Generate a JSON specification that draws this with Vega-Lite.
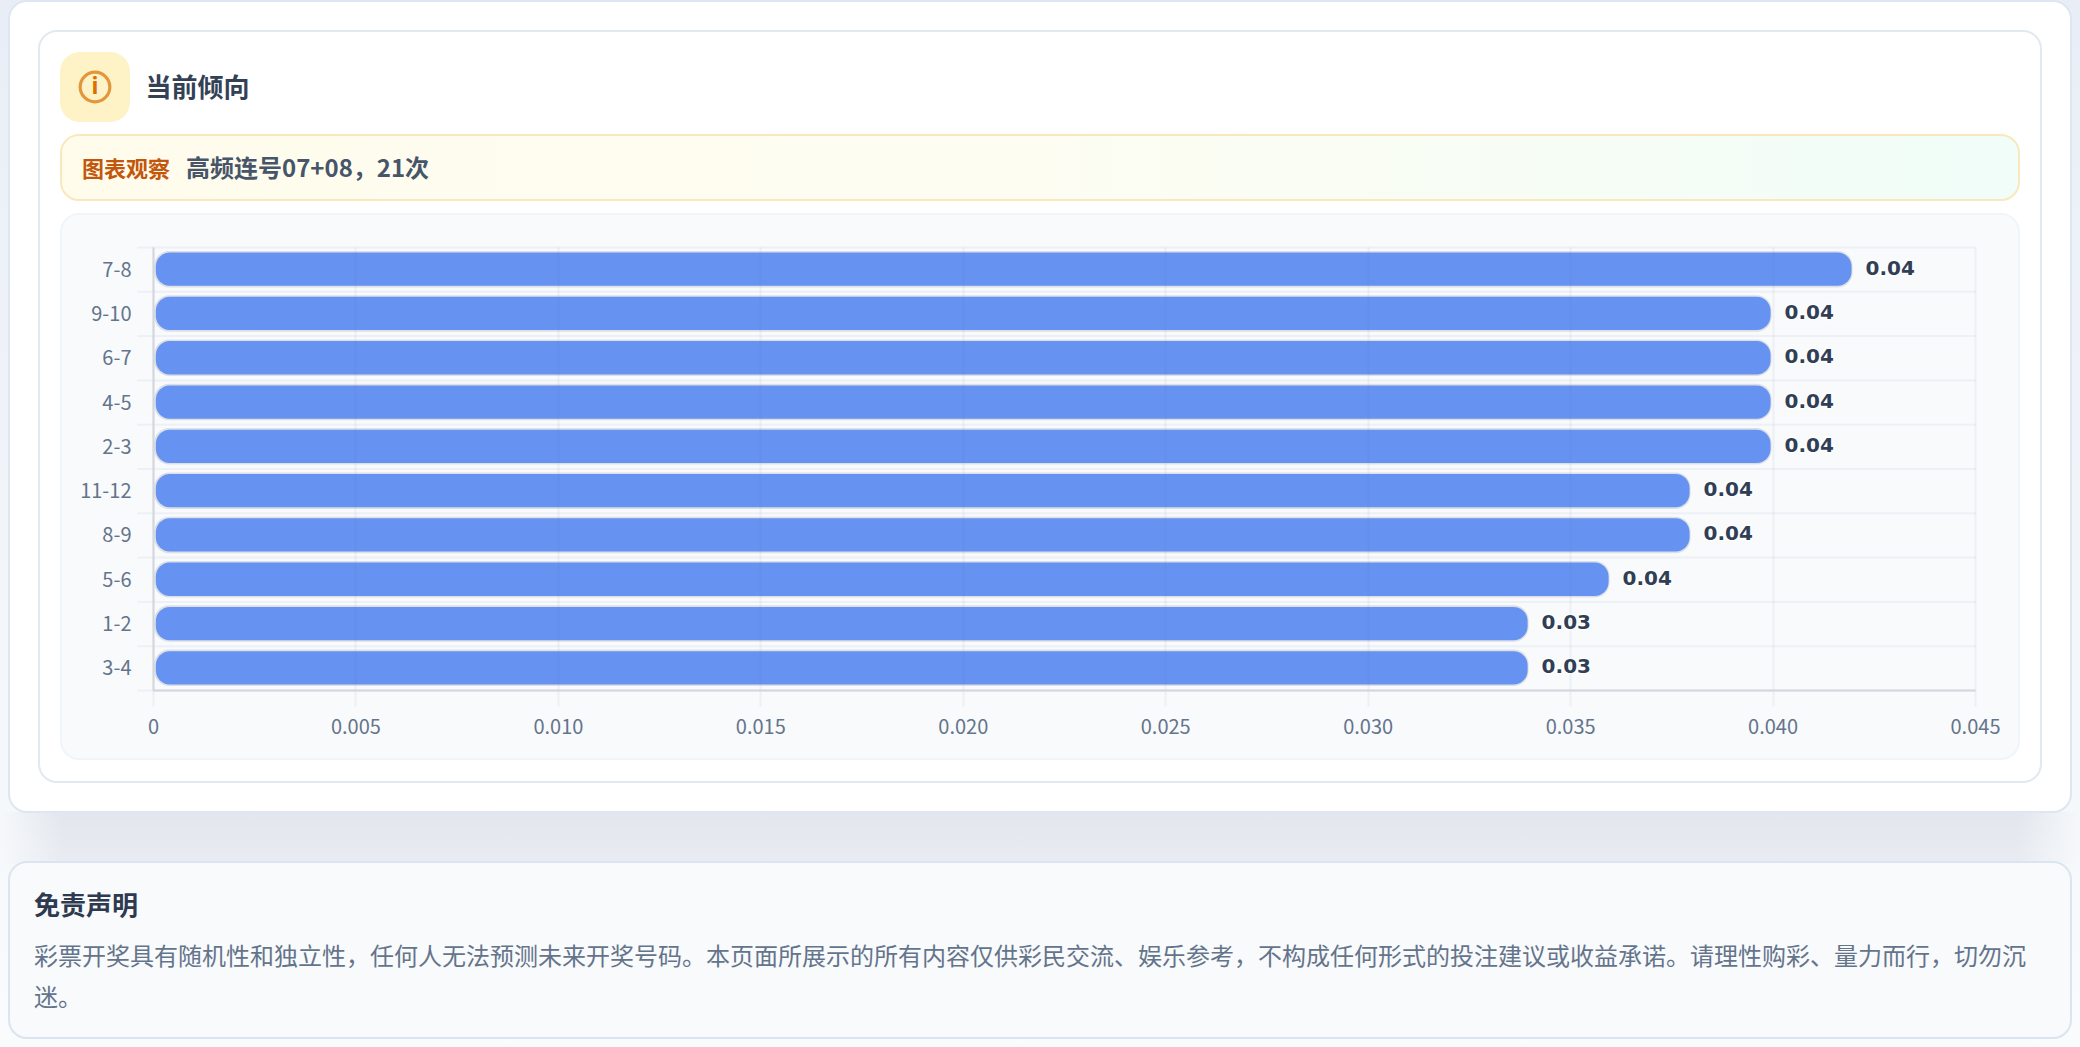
{
"$schema":"https://vega.github.io/schema/vega-lite/v6.json",
"padding":0,
"background":"#f1f4f9",
"bounds":"flush",
"spacing":0,
"config":{"font":"Noto Sans CJK SC","view":{"stroke":null}},
"vconcat":[
{"bounds":"flush","spacing":0,"vconcat":[
 {"width":2080,"height":1047,"view":{"fill":{"gradient":"linear","x1":0,"y1":0,"x2":0,"y2":1,"stops":[{"offset":0,"color":"#e9eef6"},{"offset":1,"color":"#f9fbfd"}]},"stroke":null},"data":{"values":[{"card":"page"}]},"mark":{"type":"point","opacity":0,"size":0,"strokeWidth":0},"encoding":{}}
]},
{"bounds":"flush","spacing":0,"vconcat":[
 {"width":1,"height":812,"view":{"stroke":null},"data":{"values":[{"spacer":1}]},"mark":{"type":"point","opacity":0,"size":0,"strokeWidth":0},"encoding":{}},
 {"width":2080,"height":52,"view":{"fill":{"gradient":"linear","x1":0,"y1":0,"x2":1,"y2":0,"stops":[{"offset":0,"color":"rgba(70,85,120,0)"},{"offset":0.03,"color":"rgba(70,85,120,0.11)"},{"offset":0.97,"color":"rgba(70,85,120,0.11)"},{"offset":1,"color":"rgba(70,85,120,0)"}]},"stroke":null},"data":{"values":[{"card":"shadow"}]},"mark":{"type":"point","opacity":0,"size":0,"strokeWidth":0},"encoding":{}}
]},
{"bounds":"flush","spacing":0,"vconcat":[
 {"width":1,"height":812,"view":{"stroke":null},"data":{"values":[{"spacer":1}]},"mark":{"type":"point","opacity":0,"size":0,"strokeWidth":0},"encoding":{}},
 {"width":2080,"height":52,"view":{"fill":{"gradient":"linear","x1":0,"y1":0,"x2":0,"y2":1,"stops":[{"offset":0,"color":"rgba(246,248,251,0)"},{"offset":1,"color":"rgba(246,248,251,0.3)"}]},"stroke":null},"data":{"values":[{"card":"shadow fade"}]},"mark":{"type":"point","opacity":0,"size":0,"strokeWidth":0},"encoding":{}}
]},
{"bounds":"flush","spacing":0,"vconcat":[
 {"width":1,"height":1,"view":{"stroke":null},"data":{"values":[{"spacer":1}]},"mark":{"type":"point","opacity":0,"size":0,"strokeWidth":0},"encoding":{}},
 {"bounds":"flush","spacing":0,"hconcat":[
  {"width":9,"height":1,"view":{"stroke":null},"data":{"values":[{"spacer":1}]},"mark":{"type":"point","opacity":0,"size":0,"strokeWidth":0},"encoding":{}},
  {"width":2062,"height":811,"view":{"fill":"#ffffff","stroke":"#dde6f2","strokeWidth":2,"cornerRadius":18},"data":{"values":[{"card":"outer"}]},"mark":{"type":"point","opacity":0,"size":0,"strokeWidth":0},"encoding":{}}
 ]}
]},
{"bounds":"flush","spacing":0,"vconcat":[
 {"width":1,"height":31,"view":{"stroke":null},"data":{"values":[{"spacer":1}]},"mark":{"type":"point","opacity":0,"size":0,"strokeWidth":0},"encoding":{}},
 {"bounds":"flush","spacing":0,"hconcat":[
  {"width":39,"height":1,"view":{"stroke":null},"data":{"values":[{"spacer":1}]},"mark":{"type":"point","opacity":0,"size":0,"strokeWidth":0},"encoding":{}},
  {"width":2002,"height":751,"view":{"fill":"#ffffff","stroke":"#e2e8f0","strokeWidth":2,"cornerRadius":18},"data":{"values":[{"card":"inner"}]},"mark":{"type":"point","opacity":0,"size":0,"strokeWidth":0},"encoding":{}}
 ]}
]},
{"bounds":"flush","spacing":0,"vconcat":[
 {"width":1,"height":52,"view":{"stroke":null},"data":{"values":[{"spacer":1}]},"mark":{"type":"point","opacity":0,"size":0,"strokeWidth":0},"encoding":{}},
 {"bounds":"flush","spacing":0,"hconcat":[
  {"width":60,"height":1,"view":{"stroke":null},"data":{"values":[{"spacer":1}]},"mark":{"type":"point","opacity":0,"size":0,"strokeWidth":0},"encoding":{}},
  {"width":70,"height":70,"view":{"fill":"#fef3c7","stroke":null,"cornerRadius":20},
   "title":{"text":"当前倾向","orient":"right","angle":0,"align":"left","baseline":"middle","anchor":"middle","offset":-88.5,"dy":1.5,"fontSize":26,"fontWeight":700,"color":"#334155","font":"Noto Sans CJK SC"},
   "data":{"values":[{"icon":"info"}]},
   "layer":[
    {"mark":{"type":"point","shape":"circle","filled":false,"size":880,"stroke":"#d97000","strokeWidth":3.2},"encoding":{}},
    {"mark":{"type":"text","text":"i","font":"Noto Sans","fontWeight":700,"fontSize":23,"color":"#d97000","baseline":"middle"},"encoding":{}}
   ]}
 ]}
]},
{"bounds":"flush","spacing":0,"vconcat":[
 {"width":1,"height":135,"view":{"stroke":null},"data":{"values":[{"spacer":1}]},"mark":{"type":"point","opacity":0,"size":0,"strokeWidth":0},"encoding":{}},
 {"bounds":"flush","spacing":0,"hconcat":[
  {"width":61,"height":1,"view":{"stroke":null},"data":{"values":[{"spacer":1}]},"mark":{"type":"point","opacity":0,"size":0,"strokeWidth":0},"encoding":{}},
  {"width":1958,"height":65,"view":{"fill":{"gradient":"linear","x1":0,"y1":0,"x2":1,"y2":0,"stops":[{"offset":0,"color":"#fffcec"},{"offset":0.5,"color":"#fdfdf2"},{"offset":1,"color":"#f0fdf8"}]},"stroke":"#fae8bd","strokeWidth":2,"cornerRadius":18},
   "layer":[
    {"data":{"values":[{"part":"label","text":"图表观察"}]},
     "mark":{"type":"text","align":"left","baseline":"middle","fontSize":22,"fontWeight":700,"color":"#c2570c","dy":2},
     "encoding":{"x":{"field":"part","type":"nominal","axis":null,"scale":{"type":"point","padding":0,"domain":["label","value"],"range":[21,125]}},"text":{"field":"text"}}},
    {"data":{"values":[{"part":"value","text":"高频连号07+08，21次"}]},
     "mark":{"type":"text","align":"left","baseline":"middle","fontSize":24,"fontWeight":700,"color":"#475569","dy":2},
     "encoding":{"x":{"field":"part","type":"nominal","axis":null,"scale":{"type":"point","padding":0,"domain":["label","value"],"range":[21,125]}},"text":{"field":"text"}}}
   ]}
 ]}
]},
{"bounds":"flush","spacing":0,"vconcat":[
 {"width":1,"height":214,"view":{"stroke":null},"data":{"values":[{"spacer":1}]},"mark":{"type":"point","opacity":0,"size":0,"strokeWidth":0},"encoding":{}},
 {"bounds":"flush","spacing":0,"hconcat":[
  {"width":61,"height":1,"view":{"stroke":null},"data":{"values":[{"spacer":1}]},"mark":{"type":"point","opacity":0,"size":0,"strokeWidth":0},"encoding":{}},
  {"width":1958,"height":545,"view":{"fill":"#f8fafc","stroke":"#f1f5f9","strokeWidth":2,"cornerRadius":18},"data":{"values":[{"card":"panel"}]},"mark":{"type":"point","opacity":0,"size":0,"strokeWidth":0},"encoding":{}}
 ]}
]},
{"bounds":"flush","spacing":0,"vconcat":[
 {"width":1,"height":247,"view":{"stroke":null},"data":{"values":[{"spacer":1}]},"mark":{"type":"point","opacity":0,"size":0,"strokeWidth":0},"encoding":{}},
 {"bounds":"flush","spacing":0,"hconcat":[
  {"width":153,"height":1,"view":{"stroke":null},"data":{"values":[{"spacer":1}]},"mark":{"type":"point","opacity":0,"size":0,"strokeWidth":0},"encoding":{}},
  {"width":1822,"height":443,
   "data":{"values":[
    {"pair":"7-8","value":0.042},{"pair":"9-10","value":0.04},{"pair":"6-7","value":0.04},{"pair":"4-5","value":0.04},{"pair":"2-3","value":0.04},
    {"pair":"11-12","value":0.038},{"pair":"8-9","value":0.038},{"pair":"5-6","value":0.036},{"pair":"1-2","value":0.034},{"pair":"3-4","value":0.034}]},
   "encoding":{
    "y":{"field":"pair","type":"nominal","sort":null,"title":null,"scale":{"paddingInner":0,"paddingOuter":0},
      "axis":{"zindex":1,"tickBand":"extent","tickRound":false,"grid":true,"gridColor":"#646e96","gridOpacity":0.07,"gridWidth":2,"tickColor":"#646e96","tickOpacity":0.07,"tickWidth":2,"tickSize":16,"labelPadding":6,"labelOffset":1,"labelFontSize":20,"labelColor":"#64748b","labelFont":"Noto Sans CJK SC","domainColor":"#d4d6de","domainWidth":2}},
    "x":{"field":"value","type":"quantitative","title":null,"scale":{"domain":[0,0.045],"nice":false},
      "axis":{"zindex":1,"values":[0,0.005,0.01,0.015,0.02,0.025,0.03,0.035,0.04,0.045],"labelExpr":"datum.value===0?'0':format(datum.value,'.3f')","grid":true,"gridColor":"#646e96","gridOpacity":0.07,"gridWidth":2,"tickColor":"#646e96","tickOpacity":0.07,"tickWidth":2,"tickSize":16,"labelPadding":11,"labelFontSize":20,"labelColor":"#64748b","labelFont":"Noto Sans CJK SC","domainColor":"#d4d6de","domainWidth":2,"labelFlush":false}}
   },
   "layer":[
    {"mark":{"type":"bar","size":36.5,"cornerRadius":15,"color":"#dcdfe6","xOffset":-1},"encoding":{"x2":{"datum":0.00003}}},
    {"mark":{"type":"bar","size":33.3,"cornerRadius":14,"color":"#6692f1","xOffset":-2},"encoding":{"x2":{"datum":0.00007}}},
    {"mark":{"type":"text","align":"left","baseline":"middle","dx":12,"dy":-0.5,"font":"DejaVu Sans","fontWeight":700,"fontSize":20,"stroke":"#ffffff","strokeWidth":3,"strokeOpacity":0.9,"color":"#ffffff"},"encoding":{"text":{"field":"value","type":"quantitative","format":".2f"}}},
    {"mark":{"type":"text","align":"left","baseline":"middle","dx":12,"dy":-0.5,"font":"DejaVu Sans","fontWeight":700,"fontSize":20,"color":"#303e56"},"encoding":{"text":{"field":"value","type":"quantitative","format":".2f"}}}
   ]}
 ]}
]},
{"bounds":"flush","spacing":0,"vconcat":[
 {"width":1,"height":862,"view":{"stroke":null},"data":{"values":[{"spacer":1}]},"mark":{"type":"point","opacity":0,"size":0,"strokeWidth":0},"encoding":{}},
 {"bounds":"flush","spacing":0,"hconcat":[
  {"width":9,"height":1,"view":{"stroke":null},"data":{"values":[{"spacer":1}]},"mark":{"type":"point","opacity":0,"size":0,"strokeWidth":0},"encoding":{}},
  {"width":2062,"height":176,"view":{"fill":"#f8fafc","stroke":"#dbe5f1","strokeWidth":2,"cornerRadius":18},
   "resolve":{"scale":{"y":"independent"}},
   "layer":[
    {"data":{"values":[{"block":"notice","line":"title","text":"免责声明"}]},
     "mark":{"type":"text","align":"left","baseline":"middle","fontSize":26,"fontWeight":700,"color":"#2d3a4f"},
     "encoding":{"x":{"field":"block","type":"nominal","axis":null,"scale":{"type":"point","padding":0,"range":[25,25]}},"y":{"field":"line","type":"nominal","axis":null,"scale":{"type":"point","padding":0,"range":[44.5,44.5]}},"text":{"field":"text"}}},
    {"data":{"values":[{"block":"notice","line":"l1","text":"彩票开奖具有随机性和独立性，任何人无法预测未来开奖号码。本页面所展示的所有内容仅供彩民交流、娱乐参考，不构成任何形式的投注建议或收益承诺。请理性购彩、量力而行，切勿沉"},{"block":"notice","line":"l2","text":"迷。"}]},
     "mark":{"type":"text","align":"left","baseline":"middle","fontSize":24,"fontWeight":400,"color":"#64748b"},
     "encoding":{"x":{"field":"block","type":"nominal","axis":null,"scale":{"type":"point","padding":0,"range":[25,25]}},"y":{"field":"line","type":"nominal","axis":null,"scale":{"type":"point","padding":0,"domain":["l1","l2"],"range":[96,137]}},"text":{"field":"text"}}}
   ]}
 ]}
]}
]}
